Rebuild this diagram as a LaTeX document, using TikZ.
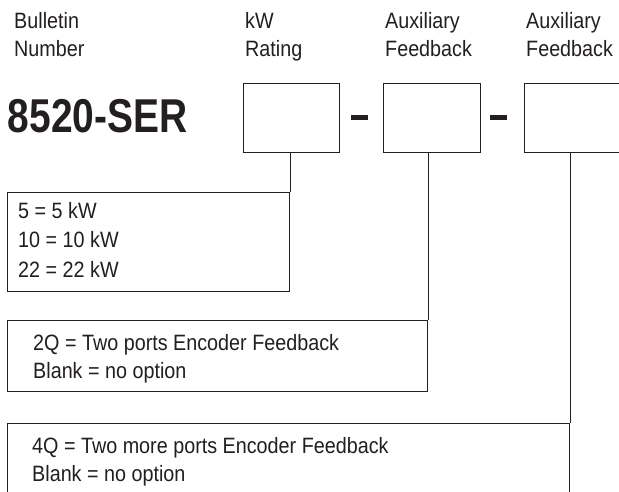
\documentclass[tikz,border=0pt]{standalone}
\usepackage{fontspec}
\setmainfont{Liberation Sans}[FakeStretch=0.89]
\newfontfamily\partfont{Liberation Sans}[FakeStretch=0.82]
\definecolor{ink}{HTML}{231F20}
\begin{document}
\begin{tikzpicture}[x=1pt,y=-1pt,
  lbl/.style={anchor=base west, inner sep=0pt, text=ink, font=\fontsize{22.2}{22.2}\selectfont},
  slot/.style={draw=ink, line width=1pt, anchor=north west, inner sep=0pt, minimum height=69pt},
  optbox/.style={draw=ink, line width=1pt, anchor=north west, inner sep=0pt},
  sep/.style={fill=ink, inner sep=0pt, minimum width=17pt, minimum height=5.5pt},
  wire/.style={draw=ink, line width=1pt}]
\useasboundingbox (0,0) rectangle (619,491);
\clip (0,0) rectangle (619,491);
\fill[white] (0,0) rectangle (619,491);

% header labels
\node[lbl] (h1a) at (14,28) {Bulletin};
\node[lbl] (h1b) at (14,56) {Number};
\node[lbl] (h2a) at (245,28) {kW};
\node[lbl] (h2b) at (245,56) {Rating};
\node[lbl] (h3a) at (385,28) {Auxiliary};
\node[lbl] (h3b) at (385,56) {Feedback};
\node[lbl] (h4a) at (526,28) {Auxiliary};
\node[lbl] (h4b) at (526,56) {Feedback};

% catalogue number
\node[anchor=base west, inner sep=0pt, text=ink, font=\partfont\bfseries\fontsize{47.5}{47.5}\selectfont] (pn) at (7.5,132) {8520-SER};

% code slots
\node[slot, minimum width=96pt] (s1) at (243,83) {};
\node[sep] (d1) at (359.5,117.5) {};
\node[slot, minimum width=97pt] (s2) at (383,83) {};
\node[sep] (d2) at (498.5,117.5) {};
\node[slot, minimum width=130pt] (s3) at (524,83) {};

% option boxes
\node[optbox, minimum width=282pt, minimum height=99pt] (o1) at (7,192) {};
\node[optbox, minimum width=420pt, minimum height=71pt] (o2) at (7,320) {};
\node[optbox, minimum width=562pt, minimum height=110pt] (o3) at (7,423) {};

% connectors
\draw[wire] (s1.south -| o1.north east) -- (o1.north east);
\draw[wire] (s2.south -| o2.north east) -- (o2.north east);
\draw[wire] (s3.south -| o3.north east) -- (o3.north east);

% option texts
\node[lbl] (t11) at (18,218) {5 = 5 kW};
\node[lbl] (t12) at (18,247.5) {10 = 10 kW};
\node[lbl] (t13) at (18,277) {22 = 22 kW};
\node[lbl] (t21) at (33,350) {2Q = Two ports Encoder Feedback};
\node[lbl] (t22) at (33,378) {Blank = no option};
\node[lbl] (t31) at (32,453) {4Q = Two more ports Encoder Feedback};
\node[lbl] (t32) at (32,481) {Blank = no option};
\end{tikzpicture}
\end{document}
